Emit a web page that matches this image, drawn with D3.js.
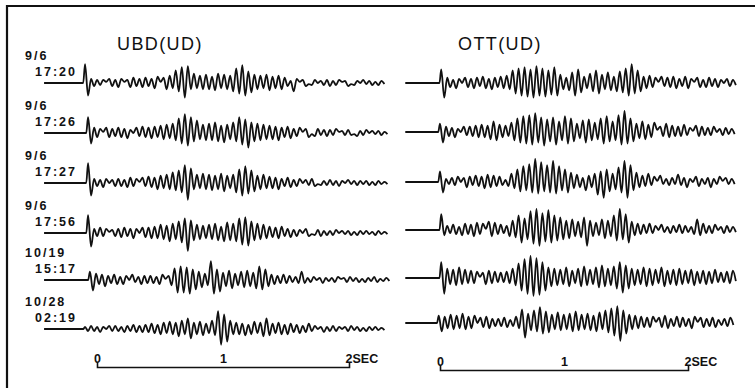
<!DOCTYPE html>
<html>
<head>
<meta charset="utf-8">
<script src="https://cdn.jsdelivr.net/npm/d3@7"></script>
<style>
  body { margin: 0; background: #fff; }
  svg { display: block; }
</style>
</head>
<body>
<div id="chart"></div>
<script>
// station titles, event labels, time-scale ticks
const stations = ["UBD(UD)", "OTT(UD)"];
const dates = ["9/6", "9/6", "9/6", "9/6", "10/19", "10/28"];
const times = ["17:20", "17:26", "17:27", "17:56", "15:17", "02:19"];
const scaleTicks = [0, 1, 2];

// sample step (sec) between picked peaks, onset time (sec) of each trace
const dt = 0.024;
const onsetUBD = [-0.095, -0.071, -0.071, -0.071, -0.056, -0.095];
const onsetOTT = [0.01, 0.0, 0.0, 0.01, 0.01, -0.01];

// UBD(UD) amplitudes
const ubd = [
  [18,-12,4,-3,3,-2,3,1,4,-3, 3,-4,4,1,3,-4,5,-3,4,-4, 5,-3,4,-5,6,1,5,-6,7,-5,
   12,-8,15,-14,16,-6,9,-5,7,-6, 8,-6,6,-7,9,-5,8,-6,7,-8, 14,-10,17,-12,11,-9,8,-6,7,-5,
   8,-7,6,-5,7,-6,5,-3,2,-8, 4,1,3,-3,-1,-2,3,0,2,-2, 3,-3,2,-2,3,1,2,-3,-1,-2, 2,0,3,-1,2,-2,1,-2,2,-1],
  [15,-10,5,-4,4,1,5,-4,4,-3, 5,-4,4,-5,3,0,5,-3,6,-4, 5,-5,6,-4,7,-6,8,-5,9,-7,
   14,-10,18,-12,15,-8,12,-6,8,-7, 9,-7,10,-8,7,-9,8,-6,10,-8, 15,-11,13,-14,10,-8,9,-7,8,-6,
   7,-6,6,-7,5,-4,6,-5,4,-3, 5,1,4,-4,-1,-3,4,-2,3,-3, 3,-2,4,1,2,-2,3,-2,-1,-3, 2,-2,3,0,2,-1,2,-2,1,-1],
  [19,-12,4,-3,3,-4,4,0,3,-3, 4,-3,3,-4,5,-3,4,1,5,-3, 6,-4,5,-6,7,-5,8,-6,10,-7,
   12,-9,17,-16,14,-6,8,-5,9,-6, 8,-7,7,-6,9,-8,7,-5,8,-9, 13,-12,16,-10,12,-8,7,-6,8,-5,
   6,-5,5,-6,4,-3,5,-4,3,-3, 4,0,3,-2,4,-3,-1,-2,2,-2, 3,-2,2,-3,2,0,3,-1,2,-2, 2,-1,2,-2,1,-2,2,-1,1,-1],
  [17,-13,4,-3,5,-3,4,1,3,-3, 4,-4,5,-3,4,-5,4,0,5,-4, 5,-5,6,-5,8,-6,7,-8,9,-6,
   11,-9,14,-17,12,-7,8,-6,7,-5, 8,-6,9,-7,6,-8,10,-7,9,-8, 14,-11,15,-12,11,-7,9,-6,8,-5,
   6,-4,5,-5,6,-3,4,-4,3,-3, 3,0,4,-3,-1,-2,3,-3,2,-2, 2,-2,3,0,2,-1,2,-2,1,-2, 2,-1,2,-1,1,-2,2,-1,1,-1],
  [8,-10,6,-4,5,-6,4,-3,5,-4, 3,-4,4,0,5,-2,3,-4,4,-3, 4,-3,3,-4,5,1,4,-5,11,-12,
   13,-12,12,-13,10,-9,8,-7,6,-5, 18,-13,10,-11,7,-6,9,-8,6,-5, 8,-7,9,-6,7,-8,13,-9,10,-6,
   5,-4,4,-3,5,-3,4,-2,3,-3, 8,-3,2,-2,3,0,2,-3,2,-1, 2,-2,3,1,2,-2,3,-1,2,-2, 1,-2,2,-1,3,-2,1,-1,2,-1],
  [2,-2,3,-2,2,-3,2,0,3,-2, 3,-2,2,-3,3,-2,4,-3,3,-3, 4,-3,5,-4,4,-5,6,-4,7,-5,
   6,-7,8,-5,10,-9,6,-5,7,-6, 5,-4,8,-6,17,-15,14,-12,8,-5, 6,-5,5,-6,4,-5,7,-4,6,-7,
   10,-6,5,-4,6,-5,4,-5,5,-3, 4,-4,3,-3,5,-2,3,0,2,-3, 2,-2,3,-2,2,0,2,-2,3,-1, 2,-2,1,-2,2,-1,2,-1,1,-1]
];

// OTT(UD) amplitudes
const ott = [
  [13,-14,5,-4,3,-5,4,0,5,-4, 4,-5,5,-3,6,-5,4,-6,5,-4, 6,-5,7,-6,12,-10,14,-12,15,-13,
   13,-14,16,-12,14,-13,12,-11,15,-12, 8,-6,5,-7,10,-12,13,-9,6,-5, 9,-8,12,-10,8,-6,10,-7,6,-8,
   11,-9,14,-12,18,-10,12,-8,6,-5, 7,-4,5,1,6,-3,5,-4,6,-5, 4,-3,6,-5,4,1,5,-4,3,-4, 5,-3,4,-4,3,0,4,-3,3,-2],
  [8,-10,5,-4,4,-5,3,0,5,-3, 5,-4,6,-5,7,-5,6,-7,10,-8, 7,-5,6,-4,9,-8,13,-10,15,-11,
   16,-12,18,-10,14,-13,12,-9,14,-12, 10,-8,15,-11,13,-9,8,-6,11,-10, 12,-8,9,-7,13,-11,15,-9,10,-8,
   16,-12,20,-11,13,-9,8,-6,10,-7, 7,-5,9,2,5,-4,8,-5,6,-4, 5,-4,7,-3,4,1,6,-4,5,-3, 4,-3,5,0,3,-3,4,-2,3,-2],
  [10,-10,3,-2,4,-3,5,0,4,-5, 5,-3,6,-4,5,-6,7,-5,6,-4, 5,-3,2,-4,8,-6,12,-9,15,-8,
   17,-10,22,-11,19,-9,16,-10,20,-11, 15,-8,12,-10,9,-6,7,-5,4,-8, 6,-5,8,-12,10,-15,12,-9,8,-7,
   14,-10,20,-15,16,-8,9,-5,6,-4, 8,-3,5,1,6,-2,3,-3,4,-2, 7,-3,4,-5,3,0,5,-4,3,-2, 4,-5,3,-2,5,1,4,-2,3,-2],
  [15,-5,4,-3,5,-4,3,-5,6,-4, 5,-6,7,-4,6,1,8,-6,7,-4, 5,-3,4,-6,9,-7,14,-12,11,-9,
   18,-13,20,-15,16,-11,19,-12,14,-10, 12,-9,9,-8,10,-6,8,-7,12,-15, 9,-6,7,-5,10,-8,9,-6,14,-10,
   20,-9,15,-12,8,-5,6,-4,5,-3, 6,-3,4,0,5,-2,3,-3,4,-2, 5,-3,4,-2,3,-4,10,-5,6,-3, 4,-3,5,0,3,-3,4,-2,3,-2],
  [15,-15,9,-6,8,-7,10,-6,8,-5, 7,-5,6,1,5,-6,7,-5,6,-4, 5,-4,6,-5,9,-7,14,-12,18,-15,
   21,-17,19,-16,15,-12,10,-8,9,-7, 8,-6,10,-8,7,-5,9,-8,11,-7, 8,-6,10,-9,12,-8,9,-7,11,-10,
   15,-14,12,-10,9,-7,8,-6,10,-8, 9,-7,8,-5,10,-8,7,-6,8,-7, 9,-6,7,-5,8,-7,6,-5,7,-6, 6,-5,8,-4,5,-4,6,-5,7,-3],
  [7,-8,6,-5,8,-6,7,-5,9,-6, 6,-5,7,0,5,-4,6,-5,4,-3, 4,-3,5,-4,3,-3,6,-5,13,-14,
   9,-7,12,-8,15,-10,11,-9,8,-6, 10,-7,8,-6,9,-8,11,-7,8,-6, 9,-7,7,-8,10,-6,12,-9,14,-12,
   16,-17,12,-10,8,-6,7,-5,6,-4, 5,-4,6,1,5,-4,7,-5,4,-3, 6,-4,5,-3,4,-5,6,1,5,-4, 4,-3,5,-4,3,-2,4,-3,5,-2]
];

const width = 755, height = 388;
const svg = d3.select("#chart").append("svg")
  .attr("width", width)
  .attr("height", height);

// frame
svg.append("path")
  .attr("d", "M7,390V6H755")
  .attr("fill", "none")
  .attr("stroke", "#111")
  .attr("stroke-width", 2.2);

const baseUBD = [83, 133, 183, 233, 280, 329];
const baseOTT = [83, 132, 182, 230, 278, 323];

const panels = [
  { name: stations[0], data: ubd, onset: onsetUBD, base: baseUBD,
    x: d3.scaleLinear().domain([0, 2]).range([97, 349]), lead: -0.42, titleX: 117, barY: 367 },
  { name: stations[1], data: ott, onset: onsetOTT, base: baseOTT,
    x: d3.scaleLinear().domain([0, 2]).range([440, 688]), lead: -0.28, titleX: 458, barY: 370 }
];

const amp = d3.scaleLinear().domain([-20, 20]).range([21, -21]);
const font = "'Liberation Sans', Arial, sans-serif";

panels.forEach(p => {
  svg.append("text")
    .attr("x", p.titleX)
    .attr("y", 50)
    .attr("font-family", font)
    .attr("font-size", 18)
    .attr("letter-spacing", 1.4)
    .attr("fill", "#111")
    .text(p.name);

  const line = d3.line()
    .x(d => p.x(d[0]))
    .y(d => d[1])
    .curve(d3.curveMonotoneX);

  p.data.forEach((vals, r) => {
    const y0 = p.base[r];
    const pts = [[p.lead, y0], [p.onset[r] - dt * 0.6, y0]];
    vals.forEach((v, i) => pts.push([p.onset[r] + i * dt, y0 + amp(v)]));
    svg.append("path")
      .attr("d", line(pts))
      .attr("fill", "none")
      .attr("stroke", "#111")
      .attr("stroke-width", 1.8)
      .attr("stroke-linejoin", "round");
  });

  // time scale bar
  const bar = svg.append("g")
    .attr("transform", `translate(0,${p.barY})`)
    .call(d3.axisTop(p.x).tickValues(scaleTicks).tickSizeInner(0).tickSizeOuter(5).tickPadding(4)
      .tickFormat(d => d === 2 ? "2SEC" : d));
  bar.select(".domain").attr("stroke", "#111").attr("stroke-width", 1.6);
  bar.selectAll("text")
    .attr("font-family", font)
    .attr("font-weight", "bold")
    .attr("font-size", 12.5)
    .attr("fill", "#111")
    .attr("text-anchor", d => d === 2 ? "start" : "middle")
    .attr("dx", d => d === 2 ? -4 : 0);
});

// event labels (date over time)
const labels = svg.append("g")
  .attr("font-family", font)
  .attr("font-weight", "bold")
  .attr("font-size", 12.5)
  .attr("fill", "#111")
  .attr("letter-spacing", 2);

dates.forEach((d, r) => {
  labels.append("text").attr("x", 25).attr("y", baseUBD[r] - 23).text(d);
  labels.append("text").attr("x", 35).attr("y", baseUBD[r] - 7).text(times[r]);
});
</script>
</body>
</html>
